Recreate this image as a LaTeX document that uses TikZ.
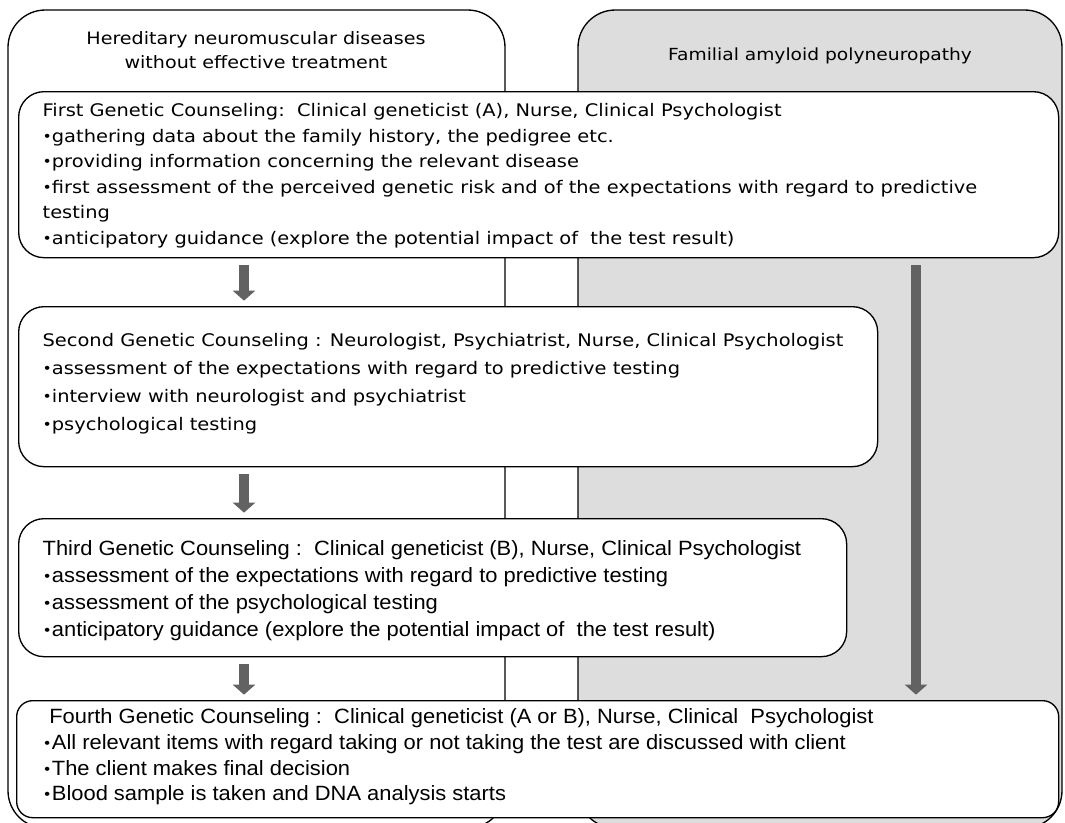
\documentclass[tikz,border=0pt]{standalone}
\usepackage{fontspec}
\setmainfont{DejaVu Sans}
\newfontfamily\wideface[FakeStretch=1.12]{DejaVu Sans}
\newfontfamily\narrowface[FakeStretch=1.06]{Liberation Sans}
\usetikzlibrary{arrows.meta}

\definecolor{famgray}{RGB}{221,221,221}
\definecolor{arrowgray}{RGB}{98,98,98}
\newcommand\cbul{\raisebox{0.1ex}{\wideface\fontsize{10.5}{10.5}\selectfont •}}

\tikzset{every picture/.style={line width=1pt}}
\tikzset{
  outerframe/.style={draw, rounded corners=28pt},
  cbox/.style={draw, fill=white, rounded corners=19pt, anchor=north west, inner sep=0pt},
  boxtext/.style={anchor=north west, inner sep=0pt, align=left, font=\wideface\fontsize{13}{19.1}\selectfont},
  narrowtext/.style={anchor=north west, inner sep=0pt, align=left, font=\narrowface\fontsize{15.5}{20.25}\selectfont},
  headtext/.style={inner sep=0pt, align=center, font=\wideface\fontsize{12.8}{18}\selectfont},
  flowarrow/.style={draw=arrowgray, line width=7.5pt, -{Triangle[length=7.5pt,width=16.5pt]}, shorten <=5pt, shorten >=4pt}
}

\begin{document}
\begin{tikzpicture}[x=0.75pt,y=0.75pt,yscale=-1,xscale=1]
\useasboundingbox (0,0) rectangle (1065,822);
\clip (0,0) rectangle (1065,822);

%Shape: Rounded Rect (familial amyloid polyneuropathy)
\draw [outerframe, fill=famgray] (578,10) rectangle (1062,828);
%Shape: Rounded Rect (neuromuscular diseases)
\draw [outerframe, fill=white] (8,10) rectangle (505,828);

% Text Node
\node [headtext] (lefthead) at (256,50) {Hereditary neuromuscular diseases\\without effective treatment};
% Text Node
\node [headtext, font=\wideface\fontsize{12.5}{18}\selectfont] (righthead) at (820,56) {Familial amyloid polyneuropathy};

%Shape: Rounded Rect
\node [cbox, minimum width=780pt, minimum height=124.5pt] (first) at (18,91) {};
%Shape: Rounded Rect
\node [cbox, minimum width=644.25pt, minimum height=120pt] (second) at (18,306) {};
%Shape: Rounded Rect
\node [cbox, minimum width=621pt, minimum height=103.5pt] (third) at (18,518) {};
%Shape: Rounded Rect
\node [cbox, rounded corners=12pt, minimum width=781.5pt, minimum height=87.75pt] (fourth) at (16,700) {};

% Text Node
\node [boxtext] (firsttext) at (42,103) {First Genetic Counseling:\ \ Clinical geneticist (A), Nurse, Clinical Psychologist\\
\cbul gathering data about the family history, the pedigree etc.\\
\cbul providing information concerning the relevant disease\\
\cbul first assessment of the perceived genetic risk and of the expectations with regard to predictive\\
testing\\
\cbul anticipatory guidance (explore the potential impact of\ \ the test result)};
% Text Node
\node [boxtext, font=\wideface\fontsize{13}{21}\selectfont] (secondtext) at (42,333) {Second Genetic Counseling : Neurologist, Psychiatrist, Nurse, Clinical Psychologist\\
\cbul assessment of the expectations with regard to predictive testing\\
\cbul interview with neurologist and psychiatrist\\
\cbul psychological testing};
% Text Node
\node [narrowtext] (thirdtext) at (42,540) {Third Genetic Counseling :\ \ Clinical geneticist (B), Nurse, Clinical Psychologist\\
\cbul assessment of the expectations with regard to predictive testing\\
\cbul assessment of the psychological testing\\
\cbul anticipatory guidance (explore the potential impact of\ \ the test result)};
% Text Node
\node [narrowtext, font=\narrowface\fontsize{15.5}{19.3}\selectfont] (fourthtext) at (42,708) {\hspace*{5pt}Fourth Genetic Counseling :\ \ Clinical geneticist (A or B), Nurse, Clinical\ \ Psychologist\\
\cbul All relevant items with regard taking or not taking the test are discussed with client\\
\cbul The client makes final decision\\
\cbul Blood sample is taken and DNA analysis starts};

%Block arrows
\coordinate (leftx) at (244,0);
\coordinate (rightx) at (916,0);
\draw [flowarrow] (first.south -| leftx) -- (second.north -| leftx);
\draw [flowarrow] (second.south -| leftx) -- (third.north -| leftx);
\draw [flowarrow] (third.south -| leftx) -- (fourth.north -| leftx);
\draw [flowarrow] (first.south -| rightx) -- (fourth.north -| rightx);

\end{tikzpicture}
\end{document}
